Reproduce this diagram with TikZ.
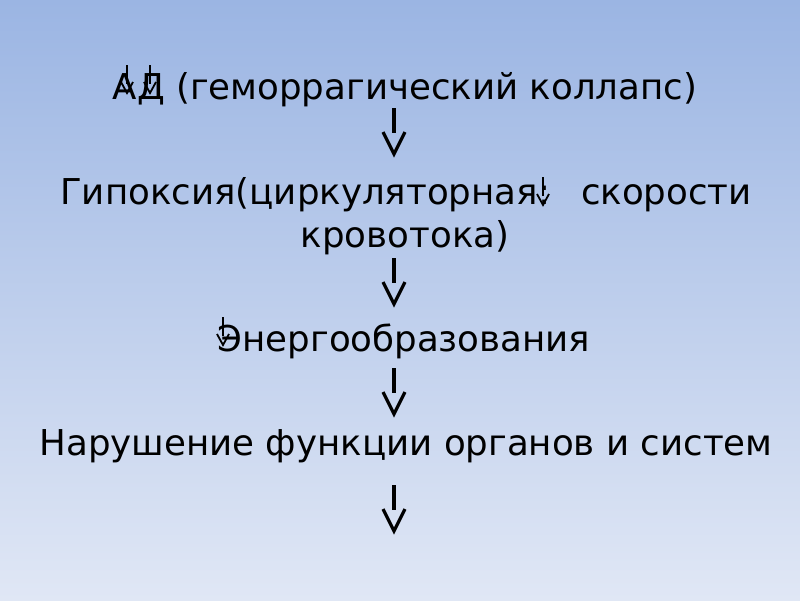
\documentclass[tikz,border=0pt]{standalone}
\usepackage{fontspec}
\setmainfont{DejaVu Sans}
\definecolor{bgtop}{HTML}{9BB5E3}
\definecolor{bgbot}{HTML}{E0E7F5}
\tikzset{
  txt/.style={inner sep=0pt, anchor=base, font=\fontsize{35.6}{42}\selectfont, text=black},
  bigshaft/.style={line width=4.8pt, draw=black},
  bighead/.style={line width=3.2pt, draw=black},
  smallshaft/.style={line width=2.4pt, draw=black},
  smallhead/.style={line width=1.8pt, draw=black},
}
\begin{document}
\begin{tikzpicture}[x=1pt,y=-1pt]
\shade[top color=bgtop, bottom color=bgbot] (0,0) rectangle (800,600);
\useasboundingbox (0,0) rectangle (800,600);

\node[txt] (l1) at (405,99) {АД (геморрагический коллапс)};
\node[txt, anchor=base west] (l2a) at (60,204) {Гипоксия(циркуляторная:};
\node[txt, anchor=base east] (l2b) at (752,204) {скорости};
\node[txt] (l2c) at (405,247) {кровотока)};
\node[txt] (l3) at (404,351) {Энергообразования};
\node[txt] (l4) at (406,455) {Нарушение функции органов и систем};

% big arrows
\foreach \n/\t in {a/108, b/258, c/368, d/485}{
  \coordinate (\n s) at (394,\t);
  \coordinate (\n m) at (394,\t+25);
  \coordinate (\n l) at (383,\t+24);
  \coordinate (\n r) at (405,\t+24);
  \coordinate (\n p) at (394,\t+46);
  \draw[bigshaft] (\n s) -- (\n m);
  \draw[bighead, line join=miter] (\n l) -- (\n p) -- (\n r);
}

% small arrows
\foreach \n/\x/\t in {e/127/65, f/150/65, g/543/177, h/223/317}{
  \coordinate (\n s) at (\x,\t);
  \coordinate (\n m) at (\x,\t+19);
  \coordinate (\n l) at (\x-6,\t+17);
  \coordinate (\n r) at (\x+6,\t+17);
  \coordinate (\n p) at (\x,\t+28);
  \draw[smallshaft] (\n s) -- (\n m);
  \draw[smallhead] (\n l) -- (\n p) -- (\n r);
}
\end{tikzpicture}
\end{document}
